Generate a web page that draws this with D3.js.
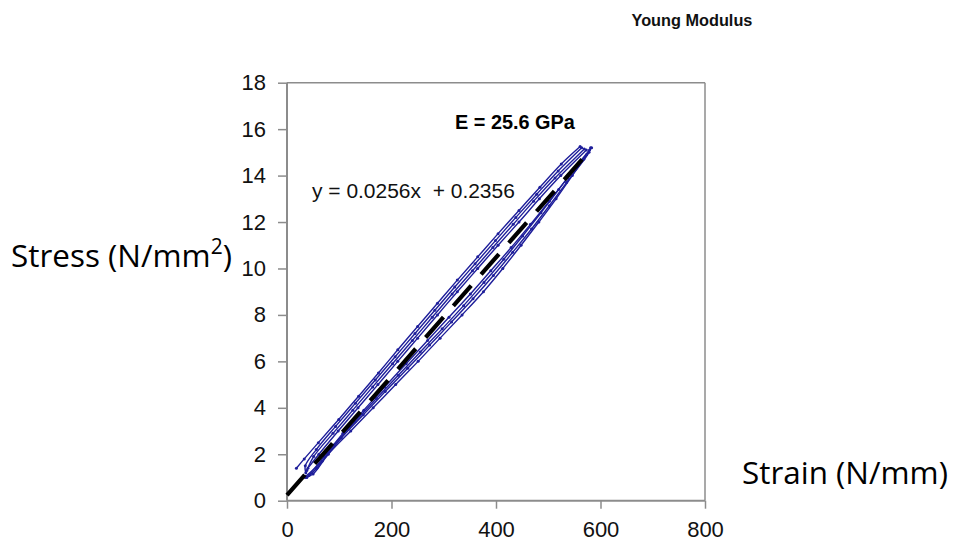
<!DOCTYPE html>
<html>
<head>
<meta charset="utf-8">
<script src="https://cdn.jsdelivr.net/npm/d3@7"></script>
<style>
  body { margin: 0; background: #fff; }
  svg { display: block; }
</style>
</head>
<body>
<svg id="chart" width="954" height="544"></svg>
<script>
// ---------- data ----------
const xTicks = [0, 200, 400, 600, 800];
const yTicks = [0, 2, 4, 6, 8, 10, 12, 14, 16, 18];

// unloading branches (upper curves): stress (N/mm2) and strain
const unload1Stress = [15.25, 14.5, 13.5, 12.5, 11.5, 10.5, 9.5, 8.5, 7.5, 6.5, 5.5, 4.5, 3.5, 2.5, 1.8, 1.4];
const unload1Strain = [561, 525, 484, 444, 404, 365, 326, 288, 250, 212, 175, 137, 99, 60, 33, 18];
const unload2Stress = [15.2, 14.2, 13.2, 12.2, 11.2, 10.2, 9.2, 8.2, 7.2, 6.2, 5.2, 4.2, 3.2, 2.2, 1.5, 1.2];
const unload2Strain = [564, 519, 478, 438, 399, 360, 321, 283, 245, 207, 169, 131, 93, 56, 35, 36];
const unload3Stress = [15.15, 13.9, 12.9, 11.9, 10.9, 9.9, 8.9, 7.9, 6.9, 5.9, 4.9, 3.9, 2.9, 1.9, 1.3];
const unload3Strain = [569, 513, 472, 433, 394, 355, 316, 278, 240, 202, 164, 126, 88, 51, 38];
const unload4Stress = [15.1, 14.0, 13.0, 12.0, 11.0, 10.0, 9.0, 8.0, 7.0, 6.0, 5.0, 4.0, 3.0, 2.0, 1.4];
const unload4Strain = [573, 524, 483, 444, 404, 365, 326, 288, 250, 212, 174, 136, 98, 61, 40];

// loading branches (lower curves)
const load1Stress = [1.0, 1.15, 2, 3, 4, 5, 6, 7, 8, 9, 10, 11, 12, 13, 14, 15, 15.2];
const load1Strain = [35, 50, 79, 122, 165, 208, 251, 293, 335, 376, 413, 448, 482, 515, 546, 578, 581];
const load2Stress = [1.05, 1.7, 2.7, 3.7, 4.7, 5.7, 6.7, 7.7, 8.7, 9.7, 10.7, 11.7, 12.7, 13.7, 14.7, 15.2];
const load2Strain = [36, 67, 104, 146, 188, 231, 273, 315, 356, 395, 432, 468, 502, 535, 568, 583];
const load3Stress = [1.0, 1.4, 2.4, 3.4, 4.4, 5.4, 6.4, 7.4, 8.4, 9.4, 10.4, 11.4, 12.4, 13.4, 14.4, 15.1];
const load3Strain = [38, 57, 90, 130, 171, 213, 255, 297, 338, 377, 415, 451, 486, 520, 554, 579];
const load4Stress = [1.1, 1.9, 2.9, 3.9, 4.9, 5.9, 6.9, 7.9, 8.9, 9.9, 10.9, 11.9, 12.9, 13.9, 14.9];
const load4Strain = [42, 71, 107, 147, 187, 228, 269, 310, 351, 390, 429, 466, 502, 537, 573];

// linear fit
const fitSlope = 0.0256;
const fitIntercept = 0.2356;
const fitStrain = [0, 583];

const titleText = "Young Modulus";
const modulusText = "E = 25.6 GPa";
const equationText = "y = 0.0256x  + 0.2356";

// ---------- layout ----------
const svg = d3.select("#chart");
const x = d3.scaleLinear().domain([0, 800]).range([287, 705]);
const y = d3.scaleLinear().domain([0, 18]).range([500.7, 82.7]);
const axisColor = "#8c8c8c";
const blue = "#1e1e9a";

// frame (top and right)
svg.append("line").attr("x1", x(0)).attr("x2", x(800)).attr("y1", y(18)).attr("y2", y(18))
  .attr("stroke", axisColor).attr("stroke-width", 1.5);
svg.append("line").attr("x1", x(800)).attr("x2", x(800)).attr("y1", y(18)).attr("y2", y(0))
  .attr("stroke", axisColor).attr("stroke-width", 1.5);

// axes
const xAxis = d3.axisBottom(x).tickValues(xTicks).tickSize(8).tickPadding(13).tickFormat(d3.format("d"));
const yAxis = d3.axisLeft(y).tickValues(yTicks).tickSize(9).tickPadding(12).tickFormat(d3.format("d"));

const gx = svg.append("g").attr("transform", `translate(0,${y(0)})`).call(xAxis);
const gy = svg.append("g").attr("transform", `translate(${x(0)},0)`).call(yAxis);
[gx, gy].forEach(g => {
  g.select(".domain").attr("stroke", axisColor).attr("stroke-width", 2);
  g.selectAll(".tick line").attr("stroke", axisColor).attr("stroke-width", 1.5);
  g.selectAll(".tick text").attr("fill", "#111")
    .style("font-family", "'Liberation Sans', Arial, sans-serif").style("font-size", "22px");
});
gx.select(".domain").attr("d", `M${x(0)},0H${x(800)}`);
gy.select(".domain").attr("d", `M0,${y(0)}V${y(18)}`);

// curves
const line = d3.line().x(d => x(d[0])).y(d => y(d[1])).curve(d3.curveCatmullRom.alpha(0.5));
const branches = [
  [unload1Strain, unload1Stress], [unload2Strain, unload2Stress],
  [unload3Strain, unload3Stress], [unload4Strain, unload4Stress],
  [load1Strain, load1Stress], [load2Strain, load2Stress],
  [load3Strain, load3Stress], [load4Strain, load4Stress]
];
branches.forEach(([xs, ys]) => {
  const pts = xs.map((v, i) => [v, ys[i]]);
  svg.append("path").datum(pts).attr("d", line)
    .attr("fill", "none").attr("stroke", blue).attr("stroke-width", 1.4);
  svg.append("g").selectAll("circle").data(pts).join("circle")
    .attr("cx", d => x(d[0])).attr("cy", d => y(d[1])).attr("r", 1.5).attr("fill", blue);
});

// linear fit line (dashed, black)
const fitPts = fitStrain.map(s => [s, fitSlope * s + fitIntercept]);
svg.append("path").datum(fitPts)
  .attr("d", d3.line().x(d => x(d[0])).y(d => y(d[1])))
  .attr("fill", "none").attr("stroke", "#000").attr("stroke-width", 4.2)
  .attr("stroke-dasharray", "27 15");

// helper: size text so it spans a given width
function fitText(sel, width) {
  const fs = parseFloat(sel.style("font-size"));
  const w = sel.node().getComputedTextLength();
  sel.style("font-size", (fs * width / w).toFixed(2) + "px");
  return sel;
}

// texts
const t1 = svg.append("text").attr("x", 631.5).attr("y", 26).text(titleText)
  .style("font-family", "'Liberation Sans', Arial, sans-serif").style("font-weight", "bold")
  .style("font-size", "16px").attr("fill", "#111");
fitText(t1, 121);

const t2 = svg.append("text").attr("x", 455).attr("y", 129).text(modulusText)
  .style("font-family", "'Liberation Sans', Arial, sans-serif").style("font-weight", "bold")
  .style("font-size", "20px").attr("fill", "#000");
fitText(t2, 120);

const t3 = svg.append("text").attr("x", 312).attr("y", 198).text(equationText)
  .style("font-family", "'Liberation Sans', Arial, sans-serif")
  .style("font-size", "21px").attr("fill", "#111").style("white-space", "pre");
fitText(t3, 203);

// axis titles (Calibri-like look)
const yt = svg.append("text").attr("x", 11).attr("y", 267)
  .style("font-family", "'Open Sans', 'Noto Sans', sans-serif").style("font-size", "30px").attr("fill", "#000");
yt.append("tspan").text("Stress (N/mm");
yt.append("tspan").text("2").style("font-size", "20px").attr("dy", -12);
yt.append("tspan").text(")").attr("dy", 12);
{
  const w = yt.node().getBBox().width;
  const s = 221 / w;
  yt.style("font-size", (30 * s).toFixed(2) + "px");
  yt.select("tspan:nth-child(2)").style("font-size", (20 * s).toFixed(2) + "px")
    .attr("dy", -12 * s);
  yt.select("tspan:nth-child(3)").attr("dy", 12 * s);
}

const xt = svg.append("text").attr("x", 742).attr("y", 483.5).text("Strain (N/mm)")
  .style("font-family", "'Open Sans', 'Noto Sans', sans-serif").style("font-size", "30px").attr("fill", "#000");
fitText(xt, 206);
</script>
</body>
</html>
